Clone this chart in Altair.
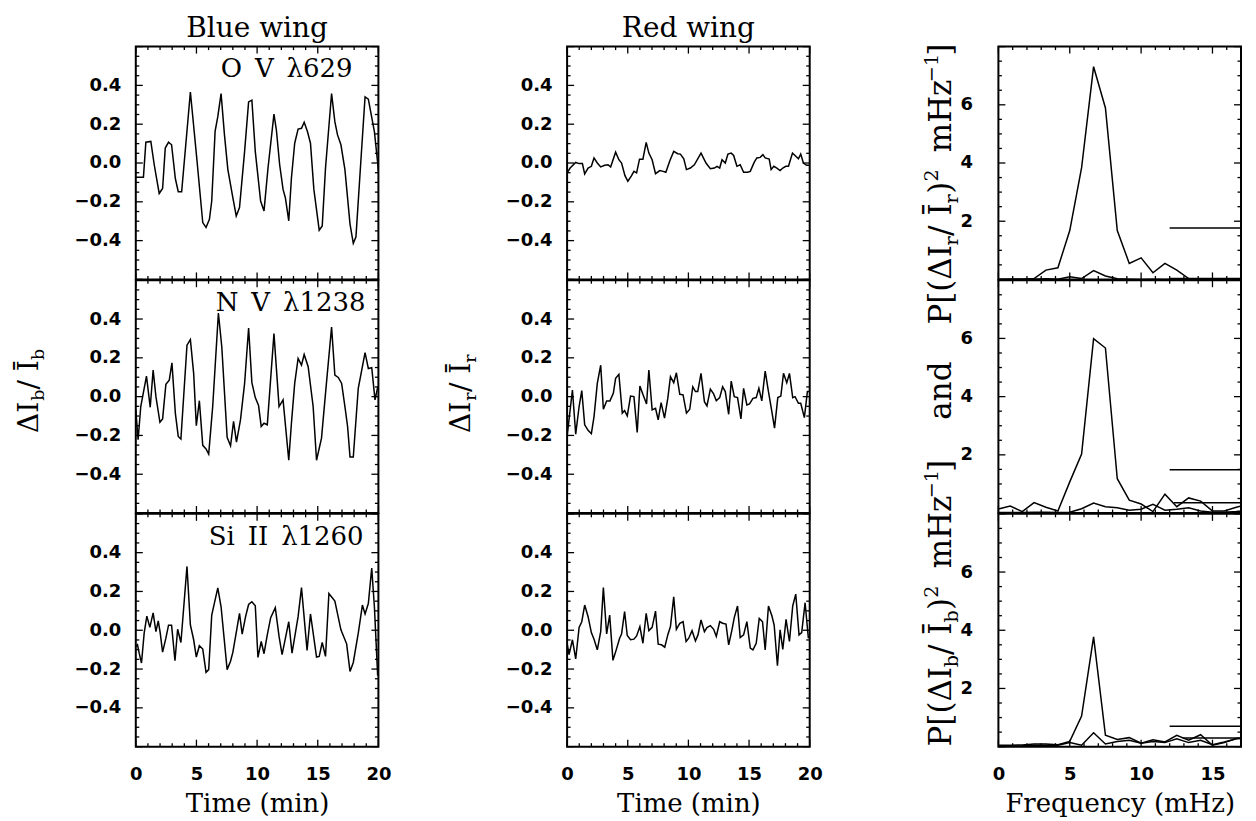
import altair as alt
import pandas as pd

# ---------------- time series (Time in min, relative intensity) ----------------
ov_b_t = [0, 0.63, 0.83, 1.24, 1.52, 1.93, 2.21, 2.43, 2.70, 2.95, 3.26, 3.50, 3.78, 4.50, 5.05, 5.52, 5.79, 6.07, 6.26, 6.54,
          6.76, 7.03, 7.31, 7.59, 8.0, 8.28, 8.55, 8.97, 9.30, 9.57, 9.85, 10.29, 10.57, 10.90, 11.39, 11.59, 11.86, 12.14, 12.33, 12.61,
          12.83, 13.10, 13.38, 13.66, 13.88, 14.15, 14.40, 14.68, 15.12, 15.37, 15.64, 16.14, 16.41, 16.63, 16.91, 17.24, 17.66, 17.93, 18.15, 18.57,
          18.90, 19.17, 19.67, 19.94, 20.0]
ov_b_v = [-0.073, -0.073, 0.107, 0.111, -0.009, -0.157, -0.131, 0.077, 0.107, 0.094, -0.080, -0.148, -0.148, 0.366, 0.009, -0.307, -0.332, -0.290, -0.196, 0.165,
          0.239, 0.358, 0.145, -0.034, -0.179, -0.273, -0.230, 0.060, 0.315, 0.324, 0.060, -0.196, -0.247, -0.026, 0.252, 0.170, -0.009, -0.136, -0.179, -0.298,
          -0.077, 0.102, 0.175, 0.179, 0.210, 0.162, 0.102, -0.136, -0.346, -0.324, -0.026, 0.358, 0.213, 0.145, 0.094, -0.034, -0.315, -0.414, -0.380, 0.026,
          0.341, 0.329, 0.162, 0.0, -0.043]

nv_b_t = [0, 0.19, 0.41, 0.88, 1.19, 1.43, 1.66, 1.99, 2.21, 2.48, 2.76, 2.98, 3.26, 3.50, 3.72, 4.22, 4.50, 4.77, 4.99, 5.24,
          5.52, 5.79, 6.01, 6.34, 6.81, 7.09, 7.53, 7.81, 8.06, 8.30, 8.63, 8.97, 9.30, 9.57, 9.85, 10.12, 10.34, 10.57, 10.84, 11.39,
          11.81, 12.14, 12.61, 12.83, 13.10, 13.38, 13.66, 13.88, 14.21, 14.62, 14.90, 15.31, 15.64, 16.14, 16.41, 16.69, 16.97, 17.24, 17.46, 17.66,
          17.93, 18.34, 18.90, 19.17, 19.45, 19.72, 19.94, 20.0]
nv_b_v = [-0.068, -0.222, -0.051, 0.106, -0.055, 0.137, 0.0, -0.132, -0.115, 0.063, 0.085, 0.174, -0.085, -0.205, -0.219, 0.265, 0.294, 0.120, -0.150, -0.021,
          -0.251, -0.270, -0.296, -0.051, 0.431, 0.256, -0.210, -0.253, -0.128, -0.234, -0.120, 0.068, 0.354, 0.072, -0.005, -0.046, -0.154, -0.137, -0.145, 0.325,
          -0.051, -0.017, -0.328, -0.137, 0.068, 0.197, 0.162, 0.217, 0.154, -0.051, -0.328, -0.214, 0.017, 0.359, 0.111, 0.099, 0.068, -0.051, -0.154, -0.311,
          -0.311, 0.043, 0.227, 0.145, 0.149, -0.017, 0.048, 0.048]

si_b_t = [0, 0.14, 0.28, 0.47, 0.69, 0.91, 1.16, 1.43, 1.66, 1.85, 2.01, 2.21, 2.48, 2.70, 2.95, 3.23, 3.45, 3.72, 4.22, 4.50,
          4.77, 4.99, 5.24, 5.52, 5.79, 6.01, 6.26, 6.76, 7.03, 7.53, 7.81, 8.0, 8.28, 8.55, 8.77, 9.05, 9.30, 9.57, 9.85, 10.07,
          10.34, 10.57, 10.84, 11.12, 11.50, 11.81, 12.06, 12.61, 12.88, 13.38, 13.66, 14.12, 14.40, 14.90, 15.12, 15.37, 15.64, 15.92, 16.41, 16.91,
          17.38, 17.66, 17.93, 18.34, 18.68, 18.90, 19.17, 19.45, 19.67, 19.94]
si_b_v = [-0.084, -0.075, -0.118, -0.169, -0.015, 0.073, 0.015, 0.090, -0.007, 0.048, -0.012, -0.113, -0.041, 0.026, 0.026, -0.157, 0.005, -0.063, 0.329, 0.027,
          -0.049, -0.138, -0.080, -0.097, -0.217, -0.203, 0.078, 0.218, 0.121, -0.203, -0.160, -0.114, -0.012, 0.087, -0.020, 0.070, 0.133, 0.147, 0.126, -0.140,
          -0.058, -0.121, -0.024, 0.065, 0.116, -0.032, -0.126, 0.044, -0.118, 0.070, 0.220, -0.104, 0.084, -0.138, -0.135, -0.063, -0.135, 0.189, 0.150, 0.002,
          -0.070, -0.212, -0.166, -0.015, 0.130, 0.084, 0.138, 0.321, 0.121, -0.234]

ov_r_t = [0, 0.25, 0.71, 0.99, 1.26, 1.45, 1.73, 2.0, 2.22, 2.49, 2.77, 3.10, 3.37, 3.59, 4.0, 4.27, 4.49, 4.77, 5.01, 5.29,
          5.51, 5.73, 5.97, 6.25, 6.52, 6.74, 7.01, 7.29, 7.64, 7.92, 8.14, 8.47, 8.79, 9.12, 9.34, 9.62, 9.84, 10.16, 10.49, 11.04,
          11.45, 11.81, 12.14, 12.36, 12.58, 12.77, 13.04, 13.26, 13.53, 13.73, 14.0, 14.27, 14.55, 14.88, 15.10, 15.42, 15.64, 15.92, 16.14, 16.33,
          16.66, 16.82, 17.04, 17.29, 17.56, 17.78, 18.03, 18.25, 18.58, 18.79, 19.07, 19.26, 19.48, 19.75, 19.97]
ov_r_v = [-0.051, -0.026, 0.003, -0.003, -0.003, -0.056, -0.026, -0.017, 0.026, 0.0, -0.020, -0.012, -0.009, -0.020, 0.056, 0.017, 0.0, -0.065, -0.094, -0.068,
          -0.043, -0.051, 0.020, 0.020, 0.106, 0.051, 0.017, -0.055, -0.039, -0.043, -0.048, 0.012, 0.060, 0.048, 0.046, 0.022, -0.034, -0.026, -0.009, 0.051,
          0.0, -0.029, -0.026, -0.017, -0.026, 0.017, 0.0, 0.046, 0.051, 0.039, -0.017, -0.009, -0.048, -0.048, -0.043, 0.003, 0.026, 0.029, 0.043, 0.026,
          0.020, -0.034, -0.017, -0.026, -0.039, -0.026, -0.017, -0.017, 0.051, 0.039, 0.022, 0.046, 0.0, -0.012, -0.012]

nv_r_t = [0, 0.22, 0.44, 0.71, 0.99, 1.21, 1.45, 1.73, 2.0, 2.22, 2.49, 2.77, 2.99, 3.26, 3.53, 3.81, 4.0, 4.27, 4.55, 4.74,
          4.96, 5.23, 5.51, 5.78, 6.0, 6.27, 6.55, 6.74, 7.01, 7.29, 7.51, 7.75, 8.03, 8.30, 8.52, 8.79, 9.01, 9.29, 9.56, 9.84,
          10.11, 10.36, 10.58, 10.77, 11.04, 11.32, 11.53, 11.81, 12.08, 12.30, 12.58, 12.82, 13.04, 13.32, 13.53, 13.78, 14.05, 14.33, 14.55, 14.82,
          15.04, 15.32, 15.59, 15.81, 16.05, 16.33, 16.60, 16.88, 17.10, 17.37, 17.62, 17.84, 18.11, 18.33, 18.60, 18.79, 19.07, 19.26, 19.56, 19.81,
          19.97]
nv_r_v = [-0.205, -0.085, 0.034, -0.193, -0.051, 0.031, -0.145, -0.174, -0.191, -0.103, 0.068, 0.162, -0.065, -0.022, -0.022, 0.017, 0.094, 0.115, -0.085, -0.072,
          -0.099, 0.003, 0.0, -0.185, 0.055, 0.009, -0.038, 0.137, -0.068, -0.060, -0.120, -0.031, -0.111, -0.009, 0.103, 0.072, 0.123, 0.012, 0.009, -0.085,
          -0.065, 0.051, 0.026, 0.026, 0.120, -0.026, -0.048, 0.039, 0.014, -0.021, -0.005, 0.051, 0.026, -0.091, 0.080, 0.0, -0.005, -0.115, 0.043, -0.043,
          -0.038, -0.009, -0.005, 0.043, -0.022, 0.132, 0.026, -0.077, -0.162, -0.005, 0.003, 0.120, 0.072, 0.120, -0.005, 0.0, -0.034, -0.034, -0.108, 0.026,
          0.026]

si_r_t = [0, 0.16, 0.44, 0.71, 0.99, 1.21, 1.45, 1.73, 2.0, 2.22, 2.49, 2.77, 2.99, 3.26, 3.51, 3.78, 4.05, 4.33, 4.49, 4.74,
          4.96, 5.23, 5.51, 5.73, 6.0, 6.25, 6.52, 6.74, 7.01, 7.29, 7.51, 7.78, 8.05, 8.30, 8.52, 8.79, 9.01, 9.29, 9.56, 9.81,
          10.03, 10.30, 10.58, 10.79, 11.04, 11.32, 11.53, 11.81, 12.08, 12.30, 12.58, 12.82, 13.10, 13.32, 13.59, 13.78, 14.05, 14.27, 14.55, 14.82,
          15.10, 15.32, 15.59, 15.84, 16.11, 16.33, 16.60, 16.88, 17.07, 17.34, 17.56, 17.78, 18.05, 18.33, 18.60, 18.85, 19.12, 19.34, 19.62, 19.89]
si_r_v = [-0.067, -0.126, -0.049, -0.148, 0.015, 0.044, 0.130, 0.070, -0.012, -0.046, -0.101, -0.007, 0.220, -0.019, 0.078, -0.155, -0.101, -0.041, -0.019, 0.096,
          -0.027, -0.049, -0.046, -0.029, 0.019, -0.067, 0.087, -0.002, 0.015, 0.099, -0.072, -0.075, -0.087, -0.024, 0.019, 0.172, 0.005, 0.036, 0.044, -0.058,
          -0.041, -0.002, -0.055, -0.024, 0.053, -0.007, 0.014, 0.024, 0.005, -0.032, 0.044, 0.036, 0.032, -0.075, 0.002, 0.065, 0.125, -0.038, -0.024, 0.044,
          -0.092, -0.101, -0.067, 0.061, 0.044, -0.101, 0.125, 0.075, 0.027, -0.183, 0.002, -0.099, 0.056, -0.058, 0.125, 0.186, -0.024, -0.012, 0.142, -0.041]

# ---------------- power spectra (frequency bins k/20 min, in mHz) ----------------
freq = [0.0, 0.83, 1.67, 2.5, 3.33, 4.17, 5.0, 5.83, 6.67, 7.5, 8.33, 9.17, 10.0, 10.83, 11.67, 12.5, 13.33, 14.17, 15.0, 15.83, 16.67, 17.5]
ov_pb = [0, 0.01, 0.01, 0.03, 0.32, 0.40, 1.68, 3.84, 7.31, 5.89, 1.68, 0.55, 0.74, 0.23, 0.55, 0.32, 0.03, 0.0, 0.0, 0.0, 0.0, 0.0]
ov_pr = [0.0, 0.01, 0.01, 0.01, 0.02, 0.01, 0.09, 0.03, 0.30, 0.12, 0.02, 0.01, 0.0, 0.01, 0.0, 0.01, 0.0, 0.0, 0.0, 0.0, 0.0, 0.0]
nv_pb = [0.14, 0.24, 0.05, 0.36, 0.20, 0.07, 1.07, 2.03, 5.99, 5.67, 1.18, 0.44, 0.31, 0.05, 0.65, 0.22, 0.52, 0.41, 0.07, 0.07, 0.20, 0.30]
nv_pr = [0.02, 0.02, 0.02, 0.03, 0.03, 0.02, 0.03, 0.15, 0.34, 0.22, 0.18, 0.10, 0.13, 0.30, 0.10, 0.13, 0.18, 0.07, 0.03, 0.03, 0.05, 0.10]
si_pb = [0.05, 0.05, 0.06, 0.09, 0.09, 0.07, 0.18, 1.05, 3.77, 0.39, 0.25, 0.31, 0.12, 0.24, 0.16, 0.39, 0.22, 0.41, 0.05, 0.14, 0.28, 0.32]
si_pr = [0.02, 0.02, 0.03, 0.05, 0.05, 0.05, 0.14, 0.05, 0.48, 0.09, 0.18, 0.22, 0.12, 0.18, 0.14, 0.27, 0.14, 0.22, 0.07, 0.16, 0.27, 0.30]

# significance levels: (start frequency, level)
ov_sig_f = [12.0, 12.0]
ov_sig_p = [1.77, 0.03]
nv_sig_f = [12.0, 12.3]
nv_sig_p = [1.49, 0.35]
si_sig_f = [12.0, 12.9]
si_sig_p = [0.70, 0.30]

labels = ["O\u2002V\u2002\u03bb629", "N\u2002V\u2002\u03bb1238", "Si\u2002II\u2002\u03bb1260"]

# ---------------- layout ----------------
W = 243
H = 233.2
SERIF = "DejaVu Serif"
SANS = "DejaVu Sans"
ONE = pd.DataFrame({"k": [0]})

# approximate advance widths (em) for placing the pieces of the rotated titles
CW = {"P": .73, "[": .39, "(": .39, "\u0394": .77, "I": .47, "/": .34, " ": .318, "\u00a0": .318, "\u012a": .47,
      ")": .39, "2": .636, "1": .636, "\u2212": .838, "m": .95, "H": .87, "z": .58, "]": .39,
      "a": .60, "n": .64, "d": .64, "b": .64, "r": .48}
K = 0.93


def width(s):
    return K * sum(CW.get(c, .6) for c in s)


def txt(s, x, y, size, angle=0, align="left", font=SERIF):
    kw = dict(text=s, font=font, fontSize=size, color="black", align=align, baseline="alphabetic")
    if angle:
        kw["angle"] = angle
    return alt.Chart(ONE).mark_text(**kw).encode(x=alt.value(x), y=alt.value(y))


def vpieces(pieces, x0, y0, S):
    """pieces: (text, kind, extra_gap_px); kind n=normal, s=subscript, p=superscript, g=gap(em)"""
    out = []
    y = y0
    s = 0.62 * S
    for p, kind, extra in pieces:
        if kind == "g":
            y -= p * S + extra
            continue
        size = S if kind == "n" else s
        dx = {"n": 0, "s": 0.22 * S, "p": -0.42 * S}[kind]
        out.append(txt(p, x0 + dx, y, size, angle=270))
        y -= width(p) * size + extra
    return out


def ticks(xs, ys, xaxis, yaxis, xmaj, xmin, ymaj, ymin, L=7, l=3.5):
    out = []
    for vals, ln in ((xmaj, L), (xmin, l)):
        base = alt.Chart(pd.DataFrame({"t": vals})).mark_rule(color="black", strokeWidth=1.3)
        xe = alt.X("t:Q", scale=xs, axis=xaxis)
        out.append(base.encode(x=xe, y=alt.value(0), y2=alt.value(ln)))
        out.append(base.encode(x=xe, y=alt.value(H), y2=alt.value(H - ln)))
    for vals, ln in ((ymaj, L), (ymin, l)):
        base = alt.Chart(pd.DataFrame({"v": vals})).mark_rule(color="black", strokeWidth=1.3)
        ye = alt.Y("v:Q", scale=ys, axis=yaxis)
        out.append(base.encode(y=ye, x=alt.value(0), x2=alt.value(ln)))
        out.append(base.encode(y=ye, x=alt.value(W), x2=alt.value(W - ln)))
    return out


T_MAJ = [0, 5, 10, 15, 20]
T_MIN = [i for i in range(21) if i % 5]
V_MAJ = [-0.6, -0.4, -0.2, 0.0, 0.2, 0.4, 0.6]
V_MIN = [round(-0.6 + 0.05 * i, 2) for i in range(25) if i % 4]
F_MAJ = [0, 5, 10, 15]
F_MIN = [i for i in range(18) if i % 5]
P_MAJ = [0, 2, 4, 6, 8]
P_MIN = [0.5 * i for i in range(17) if i % 4]


def ts_panel(t, v, bottom, extra=()):
    xs = alt.Scale(domain=[0, 20], nice=False, zero=False)
    ys = alt.Scale(domain=[-0.6, 0.6], nice=False, zero=False)
    xaxis = alt.Axis(values=T_MAJ, format="d", title="Time (min)", ticks=False, domain=False, grid=False,
                     labelPadding=19, titlePadding=7, labelFlush=False, labelOverlap=False) if bottom else None
    yaxis = alt.Axis(values=[-0.4, -0.2, 0.0, 0.2, 0.4], format=".1f", title=None, ticks=False, domain=False,
                     grid=False, labelPadding=15, labelOverlap=False)
    line = alt.Chart(pd.DataFrame({"t": t, "v": v})).mark_line(color="black", strokeWidth=1.5, clip=True).encode(
        x=alt.X("t:Q", scale=xs, axis=xaxis), y=alt.Y("v:Q", scale=ys, axis=yaxis))
    return alt.layer(line, *ticks(xs, ys, xaxis, yaxis, T_MAJ, T_MIN, V_MAJ, V_MIN), *extra).properties(width=W, height=H)


def ps_panel(pb, pr, sig_f, sig_p, bottom, extra=()):
    xs = alt.Scale(domain=[0, 17], nice=False, zero=False)
    ys = alt.Scale(domain=[0, 8], nice=False, zero=False)
    xaxis = alt.Axis(values=F_MAJ, format="d", title="Frequency (mHz)", ticks=False, domain=False, grid=False,
                     labelPadding=19, titlePadding=7, labelFlush=False, labelOverlap=False) if bottom else None
    yaxis = alt.Axis(values=[2, 4, 6], format="d", title=None, ticks=False, domain=False, grid=False,
                     labelPadding=26, labelOverlap=False)
    df = pd.DataFrame({"t": freq, "v": pb, "r": pr})
    lb = alt.Chart(df).mark_line(color="black", strokeWidth=1.5, clip=True).encode(
        x=alt.X("t:Q", scale=xs, axis=xaxis), y=alt.Y("v:Q", scale=ys, axis=yaxis))
    lr = alt.Chart(df).mark_line(color="black", strokeWidth=1.5, clip=True).encode(
        x=alt.X("t:Q", scale=xs, axis=xaxis), y=alt.Y("r:Q", scale=ys, axis=yaxis))
    sdf = pd.DataFrame({"t": sig_f, "t2": [17] * len(sig_f), "v": sig_p})
    sig = alt.Chart(sdf).mark_rule(color="black", strokeWidth=1.5, clip=True).encode(
        x=alt.X("t:Q", scale=xs, axis=xaxis), x2="t2:Q", y=alt.Y("v:Q", scale=ys, axis=yaxis))
    return alt.layer(lb, lr, sig, *ticks(xs, ys, xaxis, yaxis, F_MAJ, F_MIN, P_MAJ, P_MIN), *extra).properties(width=W, height=H)


def ytitle(sub, x0, yc):
    pieces = [("\u0394I", "n", 0), (sub, "s", 1), ("/\u00a0\u012a", "n", 0), (sub, "s", 0)]
    return vpieces(pieces, x0, yc, 28)


def power_part(sub, g1):
    return [("P[(\u0394I", "n", 0), (sub, "s", 1), ("/\u00a0\u012a", "n", 0), (sub, "s", 1), (")", "n", 1),
            ("2", "p", 0), (0.3, "g", g1), ("mHz", "n", 1), ("\u22121", "p", 0), ("]", "n", 0)]


def long_title(x0, y0, total, S=31.0):
    base = power_part("b", 0) + [(0.9, "g", 0), ("and", "n", 0), (0.9, "g", 0)] + power_part("r", 0)
    used = 0.0
    for p, kind, extra in base:
        size = S if kind in ("n", "g") else 0.62 * S
        used += (p * S if kind == "g" else width(p) * size) + extra
    spare = max(0.0, total - used)
    ga, gm = 0.3 * spare, 0.2 * spare
    pieces = power_part("b", gm) + [(0.9, "g", ga), ("and", "n", 0), (0.9, "g", ga)] + power_part("r", gm)
    return vpieces(pieces, x0, y0, S)


TITLE_SIZE = 28
panels = [
    ts_panel(ov_b_t, ov_b_v, False, [txt("Blue wing", W / 2, -10, TITLE_SIZE, align="center"), txt(labels[0], 85, 30, 26)]),
    ts_panel(ov_r_t, ov_r_v, False, [txt("Red wing", W / 2, -10, TITLE_SIZE, align="center")]),
    ps_panel(ov_pb, ov_pr, ov_sig_f, ov_sig_p, False),
    ts_panel(nv_b_t, nv_b_v, False, [txt(labels[1], 80, 31, 26)] + ytitle("b", -98, 153)),
    ts_panel(nv_r_t, nv_r_v, False, ytitle("r", -97, 153)),
    ps_panel(nv_pb, nv_pr, nv_sig_f, nv_sig_p, False, long_title(-47, 467, 703)),
    ts_panel(si_b_t, si_b_v, True, [txt(labels[2], 73, 31, 26)]),
    ts_panel(si_r_t, si_r_v, True),
    ps_panel(si_pb, si_pr, si_sig_f, si_sig_p, True),
]

chart = alt.concat(*panels, columns=3, spacing={"row": 0, "column": 189}, bounds="flush").configure_view(
    stroke="black", strokeWidth=2
).configure_axis(
    labelFont=SANS, labelFontSize=18, labelFontWeight="bold", labelColor="black",
    titleFont=SERIF, titleFontSize=26, titleFontWeight="normal", titleColor="black"
).properties(padding={"left": 7, "top": 5, "right": 5, "bottom": 5}, background="white")

chart.save("out.html", embed_options={"renderer": "svg", "actions": False})
